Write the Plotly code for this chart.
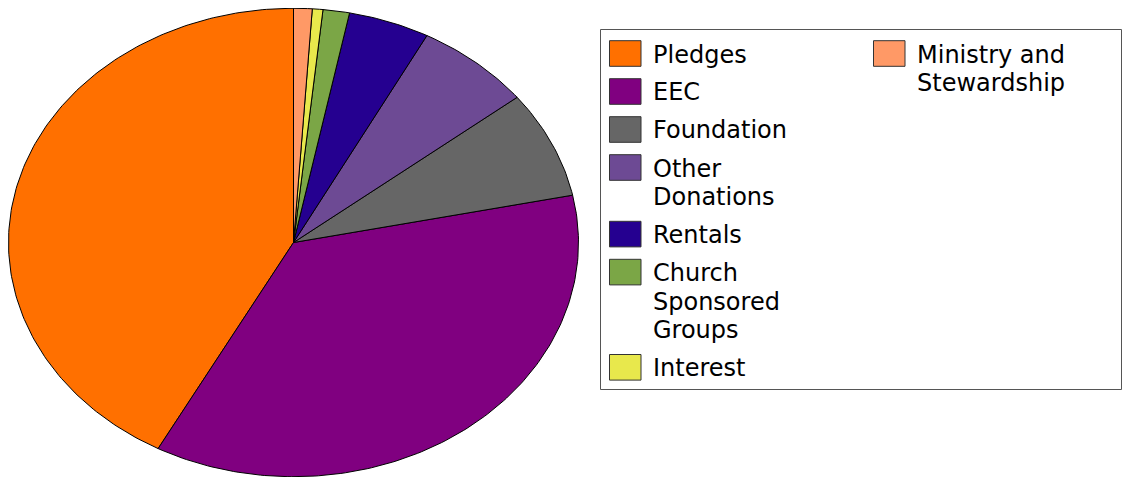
import numpy as np
import plotly.graph_objects as go

# ---- data ----
labels = ["Pledges", "EEC", "Foundation", "Other Donations", "Rentals",
          "Church Sponsored Groups", "Interest", "Ministry and Stewardship"]
legend_lines = [["Pledges"], ["EEC"], ["Foundation"], ["Other", "Donations"],
                ["Rentals"], ["Church", "Sponsored", "Groups"], ["Interest"],
                ["Ministry and", "Stewardship"]]
values = [42.1, 36.1, 7.4, 6.6, 4.6, 1.5, 0.6, 1.05]
colors = ["#FF7000", "#800080", "#666666", "#6D4A94", "#250090",
          "#7BA646", "#E8E84C", "#FF9966"]

# ---- geometry: reference-page pixels -> figure paper coords ----
# the figure is drawn inside the page body (8px margin), 1115x469
OX, OY, FW, FH = 8.0, 8.0, 1115.0, 469.0
CX, CY, RX, RY = 293.5, 242.5, 285.0, 234.2
PAD = 1.004


def px(x):
    return (x - OX) / FW


def py(y):
    return 1 - (y - OY) / FH


fig = go.Figure()

total = float(sum(values))
start = 0.0
for lab, v, col in zip(labels, values, colors):
    a0 = start / total * 2 * np.pi
    a1 = (start + v) / total * 2 * np.pi
    n = max(4, int(np.ceil((a1 - a0) / (2 * np.pi) * 400)))
    t = np.linspace(a0, a1, n)
    xs = np.concatenate([[0.0], -np.sin(t), [0.0]])
    ys = np.concatenate([[0.0], np.cos(t), [0.0]])
    fig.add_trace(go.Scatter(
        x=xs, y=ys, mode="lines", fill="toself", fillcolor=col,
        line=dict(color="#000000", width=1), name=lab, showlegend=False,
        hoverinfo="name"))
    start += v

x_left = max(OX, CX - RX * PAD)
x_right = min(OX + FW, CX + RX * PAD)
y_top = max(OY, CY - RY * PAD)
y_bot = min(OY + FH, CY + RY * PAD)
fig.update_xaxes(range=[(x_left - CX) / RX, (x_right - CX) / RX], visible=False,
                 domain=[px(x_left), px(x_right)])
fig.update_yaxes(range=[(CY - y_bot) / RY, (CY - y_top) / RY], visible=False,
                 domain=[py(y_bot), py(y_top)])

# ---- legend (built from labels / colors) ----
shapes = []
annotations = []
shapes.append(dict(type="rect", xref="paper", yref="paper",
                   x0=px(600.5), x1=px(1121.5), y0=py(389.5), y1=py(29.5),
                   line=dict(color="#555555", width=1), fillcolor="rgba(0,0,0,0)"))

FONT = dict(family="DejaVu Sans", size=24, color="#000000")
LINE_H = 28.6
GAP = 38.0
SW_W, SW_H = 31.5, 25.6


def legend_entry(idx, sx, tx, top):
    col = colors[idx]
    shapes.append(dict(type="rect", xref="paper", yref="paper",
                       x0=px(sx), x1=px(sx + SW_W), y0=py(top + SW_H), y1=py(top),
                       line=dict(color="#333333", width=1), fillcolor=col))
    for k, line in enumerate(legend_lines[idx]):
        annotations.append(dict(
            xref="paper", yref="paper", x=px(tx), y=py(top + SW_H / 2 + 1 + k * LINE_H),
            xanchor="left", yanchor="middle", text=line, showarrow=False,
            font=FONT))


top = 40.7
for i in range(7):
    legend_entry(i, 609.5, 651, top)
    top += GAP + (len(legend_lines[i]) - 1) * LINE_H
legend_entry(7, 873.5, 915, 40.7)

fig.update_layout(
    margin=dict(l=0, r=0, t=0, b=0),
    paper_bgcolor="#FFFFFF", plot_bgcolor="#FFFFFF",
    shapes=shapes, annotations=annotations, showlegend=False,
)

fig.write_html("out.html")
